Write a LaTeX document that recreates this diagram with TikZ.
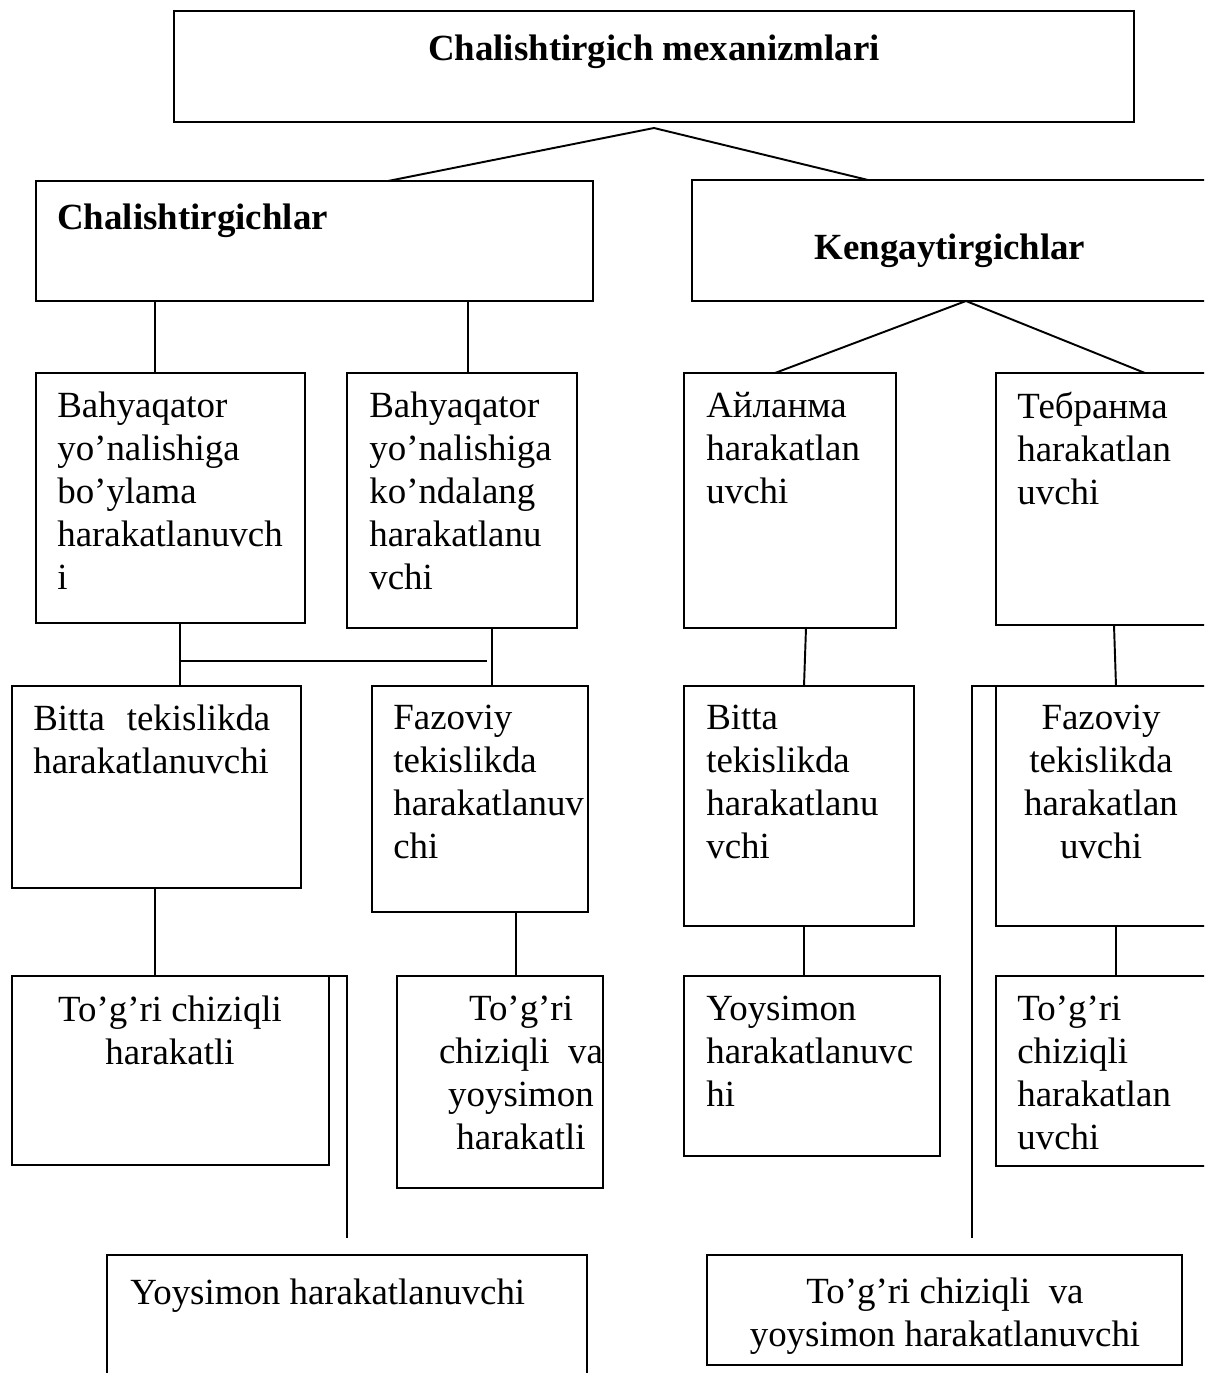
\documentclass[tikz,border=0pt]{standalone}
\usepackage{fontspec}
\setmainfont{Liberation Serif}
\usetikzlibrary{fit,calc}

\begin{document}
\begin{tikzpicture}[
    x=0.02cm, y=-0.02cm,
    frame/.style={draw, line width=1.1pt, inner sep=0pt, outer sep=0pt},
    link/.style={line width=1.1pt},
    body/.style={font=\fontsize{21}{24.4}\selectfont, inner sep=0pt, align=left},
    head/.style={font=\fontsize{21}{24.4}\selectfont\bfseries, inner sep=0pt}
]
\useasboundingbox (0,0) rectangle (1204,1373);
\clip (0,0) rectangle (1204,1373);

\node[frame, fit={(174,11) (1134,122)}] (mech) {};
\node[head, anchor=base] (mech-t) at (654,60) {Chalishtirgich mexanizmlari};

\node[frame, fit={(36,181) (593,301)}] (chal) {};
\node[head, anchor=base west] (chal-t) at (57,229) {Chalishtirgichlar};
\node[frame, fit={(692,180) (1212,301)}] (keng) {};
\node[head, anchor=base] (keng-t) at (950,259) {Kengaytirgichlar};

\node[frame, fit={(36,373) (305,623)}] (boylama) {};
\node[body, anchor=north west] (boylama-t) at (57,392) {Bahyaqator\\yo’nalishiga\\bo’ylama\\harakatlanuvch\\i};
\node[frame, fit={(347,373) (577,628)}] (kondalang) {};
\node[body, anchor=north west] (kondalang-t) at (369,392) {Bahyaqator\\yo’nalishiga\\ko’ndalang\\harakatlanu\\vchi};
\node[frame, fit={(684,373) (896,628)}] (aylanma) {};
\node[body, anchor=north west] (aylanma-t) at (706,392) {Айланма\\harakatlan\\uvchi};
\node[frame, fit={(996,373) (1212,625)}] (tebranma) {};
\node[body, anchor=north west] (tebranma-t) at (1017,392) {Тебранма\\harakatlan\\uvchi};

\node[frame, fit={(12,686) (301,888)}] (tekis) {};
\node[body, anchor=north west] (tekis-t) at (33,705) {\makebox[4.74cm][s]{Bitta tekislikda}\\harakatlanuvchi};
\node[frame, fit={(372,686) (588,912)}] (fazo) {};
\node[body, anchor=north west] (fazo-t) at (393,705) {Fazoviy\\tekislikda\\harakatlanuv\\chi};
\node[frame, fit={(684,686) (914,926)}] (tekisR) {};
\node[body, anchor=north west] (tekisR-t) at (706,705) {Bitta\\tekislikda\\harakatlanu\\vchi};
\node[frame, fit={(996,686) (1212,926)}] (fazoR) {};
\node[body, align=center, anchor=north] (fazoR-t) at (1101,705) {Fazoviy\\tekislikda\\harakatlan\\uvchi};

\node[frame, fit={(12,976) (329,1165)}] (togri) {};
\node[body, align=center, anchor=north] (togri-t) at (170,996) {To’g’ri chiziqli\\harakatli};
\node[frame, fit={(397,976) (603,1188)}] (togriva) {};
\node[body, align=center, anchor=north] (togriva-t) at (521,996) {To’g’ri\\chiziqli\ \ va\\yoysimon\\harakatli};
\node[frame, fit={(684,976) (940,1156)}] (yoy) {};
\node[body, anchor=north west] (yoy-t) at (706,996) {Yoysimon\\harakatlanuvc\\hi};
\node[frame, fit={(996,976) (1212,1166)}] (togriR) {};
\node[body, anchor=north west] (togriR-t) at (1017,996) {To’g’ri\\chiziqli\\harakatlan\\uvchi};

\node[frame, fit={(107,1255) (587,1390)}] (yoyB) {};
\node[body, anchor=base west] (yoyB-t) at (130,1304) {Yoysimon harakatlanuvchi};
\node[frame, fit={(707,1255) (1182,1365)}] (togrivaB) {};
\node[body, align=center, anchor=north] (togrivaB-t) at (945,1278) {To’g’ri chiziqli\ \ va\\yoysimon harakatlanuvchi};

\coordinate (apex) at ($(mech.south)+(0,6)$);
\coordinate (kapex) at (966,0 |- keng.south);
\coordinate (join) at (180,661);
\coordinate (leftend) at (347,1238);
\coordinate (rightend) at (972,1238);

\draw[link] (388,0 |- chal.north) -- (apex) -- (868,0 |- keng.north);
\draw[link] (155,0 |- chal.south) -- (155,0 |- boylama.north);
\draw[link] (468,0 |- chal.south) -- (468,0 |- kondalang.north);
\draw[link] (775,0 |- aylanma.north) -- (kapex) -- (1145,0 |- tebranma.north);
\draw[link] (180,0 |- boylama.south) -- (180,0 |- tekis.north);
\draw[link] (join) -- (487,0 |- join);
\draw[link] (492,0 |- kondalang.south) -- (492,0 |- fazo.north);
\draw[link] (806,0 |- aylanma.south) -- (804,0 |- tekisR.north);
\draw[link] (1114,0 |- tebranma.south) -- (1116,0 |- fazoR.north);
\draw[link] (155,0 |- tekis.south) -- (155,0 |- togri.north);
\draw[link] (516,0 |- fazo.south) -- (516,0 |- togriva.north);
\draw[link] (804,0 |- tekisR.south) -- (804,0 |- yoy.north);
\draw[link] (1116,0 |- fazoR.south) -- (1116,0 |- togriR.north);
\draw[link] (togri.north east) -| (leftend);
\draw[link] (fazoR.north west) -| (rightend);
\end{tikzpicture}
\end{document}
